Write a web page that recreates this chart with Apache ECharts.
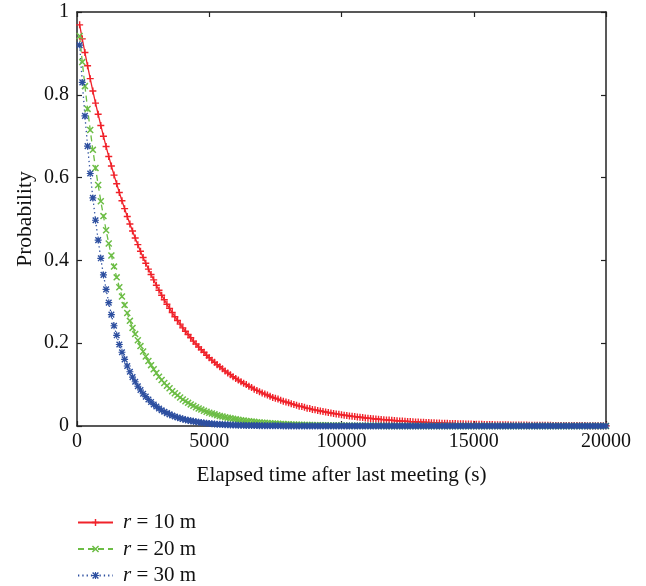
<!DOCTYPE html>
<html>
<head>
<meta charset="utf-8">
<script src="https://cdn.jsdelivr.net/npm/echarts@6/dist/echarts.min.js"></script>
<style>
html,body{margin:0;padding:0;background:#fff;}
#chart{width:646px;height:586px;}
</style>
</head>
<body>
<div id="chart"></div>
<script>
// Elapsed time (s) of each sample
var times = [
100,200,300,400,500,600,700,800,900,1000,
1100,1200,1300,1400,1500,1600,1700,1800,1900,2000,
2100,2200,2300,2400,2500,2600,2700,2800,2900,3000,
3100,3200,3300,3400,3500,3600,3700,3800,3900,4000,
4100,4200,4300,4400,4500,4600,4700,4800,4900,5000,
5100,5200,5300,5400,5500,5600,5700,5800,5900,6000,
6100,6200,6300,6400,6500,6600,6700,6800,6900,7000,
7100,7200,7300,7400,7500,7600,7700,7800,7900,8000,
8100,8200,8300,8400,8500,8600,8700,8800,8900,9000,
9100,9200,9300,9400,9500,9600,9700,9800,9900,10000,
10100,10200,10300,10400,10500,10600,10700,10800,10900,11000,
11100,11200,11300,11400,11500,11600,11700,11800,11900,12000,
12100,12200,12300,12400,12500,12600,12700,12800,12900,13000,
13100,13200,13300,13400,13500,13600,13700,13800,13900,14000,
14100,14200,14300,14400,14500,14600,14700,14800,14900,15000,
15100,15200,15300,15400,15500,15600,15700,15800,15900,16000,
16100,16200,16300,16400,16500,16600,16700,16800,16900,17000,
17100,17200,17300,17400,17500,17600,17700,17800,17900,18000,
18100,18200,18300,18400,18500,18600,18700,18800,18900,19000,
19100,19200,19300,19400,19500,19600,19700,19800,19900,20000
];

var seriesNames = ['r = 10 m', 'r = 20 m', 'r = 30 m'];

var r10 = [
0.969,0.935,0.902,0.870,0.839,0.809,0.780,0.753,0.726,0.700,
0.675,0.651,0.628,0.606,0.585,0.564,0.544,0.525,0.506,0.488,
0.471,0.454,0.438,0.422,0.407,0.393,0.379,0.366,0.353,0.340,
0.328,0.316,0.305,0.294,0.284,0.274,0.264,0.255,0.246,0.237,
0.229,0.221,0.213,0.205,0.198,0.191,0.184,0.178,0.171,0.165,
0.159,0.154,0.148,0.143,0.138,0.133,0.128,0.124,0.119,0.115,
0.111,0.107,0.103,0.100,0.096,0.093,0.089,0.086,0.083,0.080,
0.077,0.075,0.072,0.069,0.067,0.065,0.062,0.060,0.058,0.056,
0.054,0.052,0.050,0.048,0.047,0.045,0.043,0.042,0.040,0.039,
0.0376,0.0363,0.0350,0.0338,0.0326,0.0314,0.0303,0.0292,0.0282,0.0272,
0.0262,0.0253,0.0244,0.0235,0.0227,0.0219,0.0211,0.0204,0.0196,0.0189,
0.0183,0.0176,0.0170,0.0164,0.0158,0.0153,0.0147,0.0142,0.0137,0.0132,
0.0127,0.0123,0.0118,0.0114,0.0110,0.0106,0.0103,0.0099,0.0095,0.0092,
0.0089,0.0086,0.0083,0.0080,0.0077,0.0074,0.0071,0.0069,0.0066,0.0064,
0.0062,0.0060,0.0058,0.0056,0.0054,0.0052,0.0050,0.0048,0.0046,0.0045,
0.0043,0.0042,0.0040,0.0039,0.0037,0.0036,0.0035,0.0033,0.0032,0.0031,
0.0030,0.0029,0.0028,0.0027,0.0026,0.0025,0.0024,0.0023,0.0023,0.0022,
0.0021,0.0020,0.0019,0.0019,0.0018,0.0017,0.0017,0.0016,0.0016,0.0015,
0.0015,0.0014,0.0014,0.0013,0.0013,0.0012,0.0012,0.0011,0.0011,0.0011,
0.0010,0.0010,0.0009,0.0009,0.0009,0.0008,0.0008,0.0008,0.0008,0.0007
];

var r20 = [
0.942,0.879,0.821,0.766,0.715,0.667,0.623,0.582,0.543,0.507,
0.473,0.441,0.412,0.385,0.359,0.335,0.313,0.292,0.273,0.254,
0.237,0.222,0.207,0.193,0.180,0.168,0.157,0.147,0.137,0.128,
0.119,0.111,0.104,0.097,0.091,0.084,0.079,0.074,0.069,0.064,
0.0599,0.0559,0.0522,0.0487,0.0454,0.0424,0.0396,0.0370,0.0345,0.0322,
0.0301,0.0281,0.0262,0.0244,0.0228,0.0213,0.0199,0.0186,0.0173,0.0162,
0.0151,0.0141,0.0131,0.0123,0.0115,0.0107,0.0100,0.0093,0.0087,0.0081,
0.0076,0.0071,0.0066,0.0062,0.0058,0.0054,0.0050,0.0047,0.0044,0.0041,
0.0038,0.0036,0.0033,0.0031,0.0029,0.0027,0.0025,0.0023,0.0022,0.0020,
0.0019,0.0018,0.0017,0.0016,0.0015,0.0014,0.0013,0.0012,0.0011,0.0010,
0.0010,0.0009,0.0008,0.0008,0.0007,0.0007,0.0006,0.0006,0.0006,0.0005,
0.0005,0.0004,0.0004,0.0004,0.0004,0.0003,0.0003,0.0003,0.0003,0.0003,
0.0002,0.0002,0.0002,0.0002,0.0002,0.0002,0.0002,0.0002,0.0002,0.0002,
0.0001,0.0001,0.0001,0.0001,0.0001,0.0001,0.0001,0.0001,0.0001,0.0001,
0,0,0,0,0,0,0,0,0,0,
0,0,0,0,0,0,0,0,0,0,
0,0,0,0,0,0,0,0,0,0,
0,0,0,0,0,0,0,0,0,0,
0,0,0,0,0,0,0,0,0,0,
0,0,0,0,0,0,0,0,0,0
];

var r30 = [
0.920,0.830,0.749,0.676,0.610,0.551,0.497,0.449,0.405,0.365,
0.330,0.298,0.269,0.242,0.219,0.197,0.178,0.161,0.145,0.131,
0.118,0.107,0.096,0.087,0.078,0.071,0.064,0.058,0.052,0.047,
0.0424,0.0382,0.0345,0.0311,0.0281,0.0254,0.0229,0.0207,0.0186,0.0168,
0.0152,0.0137,0.0124,0.0112,0.0101,0.0091,0.0082,0.0074,0.0067,0.0060,
0.0054,0.0049,0.0044,0.0040,0.0036,0.0033,0.0029,0.0027,0.0024,0.0022,
0.0020,0.0018,0.0016,0.0014,0.0013,0.0012,0.0011,0.0010,0.0009,0.0008,
0.0007,0.0006,0.0006,0.0005,0.0005,0.0004,0.0004,0.0003,0.0003,0.0003,
0.0003,0.0002,0.0002,0.0002,0.0002,0.0002,0.0001,0.0001,0.0001,0.0001,
0.0001,0.0001,0.0001,0.0001,0.0001,0.0001,0.0001,0.0001,0.0001,0.0001,
0,0,0,0,0,0,0,0,0,0,
0,0,0,0,0,0,0,0,0,0,
0,0,0,0,0,0,0,0,0,0,
0,0,0,0,0,0,0,0,0,0,
0,0,0,0,0,0,0,0,0,0,
0,0,0,0,0,0,0,0,0,0,
0,0,0,0,0,0,0,0,0,0,
0,0,0,0,0,0,0,0,0,0,
0,0,0,0,0,0,0,0,0,0,
0,0,0,0,0,0,0,0,0,0
];

var xTicks = [0, 5000, 10000, 15000, 20000];
var yTicks = [0, 0.2, 0.4, 0.6, 0.8, 1];

var FONT = '"Liberation Serif", "DejaVu Serif", serif';
var AXIS_COLOR = '#222';

var PLUS = 'path://M0,4L10,4L10,6L0,6ZM4,0L6,0L6,10L4,10Z';
var CROSS = 'path://M1.7,0.3L9.7,8.3L8.3,9.7L0.3,1.7ZM8.3,0.3L9.7,1.7L1.7,9.7L0.3,8.3Z';
var STAR = 'path://M0,4.2L10,4.2L10,5.8L0,5.8ZM4.2,0L5.8,0L5.8,10L4.2,10ZM1.7,0.3L9.7,8.3L8.3,9.7L0.3,1.7ZM8.3,0.3L9.7,1.7L1.7,9.7L0.3,8.3Z';

function pairs(vals) {
  return times.map(function (t, i) { return [t, vals[i]]; });
}

var chart = echarts.init(document.getElementById('chart'), null, {renderer: 'canvas'});

var commonAxisLine = {show: true, onZero: false, lineStyle: {color: AXIS_COLOR, width: 1.5}};
var tick = {show: true, inside: true, length: 5, lineStyle: {color: AXIS_COLOR, width: 1.2}};

var legendTops = [512, 538.5, 565];
var legends = seriesNames.map(function (nm, i) {
  return {
    orient: 'vertical',
    left: 77,
    top: legendTops[i],
    itemWidth: 35,
    itemHeight: 9,
    padding: 0,
    data: [nm],
    formatter: function (name) { return '{i|r}' + name.slice(1); },
    textStyle: {
      fontFamily: FONT, fontSize: 21, color: '#111', lineHeight: 20,
      padding: [0, 0, 0, 5],
      rich: {i: {fontFamily: FONT, fontSize: 21, fontStyle: 'italic', color: '#111', lineHeight: 20}}
    }
  };
});

chart.setOption({
  animation: false,
  backgroundColor: '#fff',
  grid: {left: 77, right: 40, top: 12, bottom: 160, containLabel: false},
  legend: legends,
  xAxis: [{
    type: 'value', min: xTicks[0], max: xTicks[xTicks.length - 1], interval: 5000,
    position: 'bottom',
    name: 'Elapsed time after last meeting (s)', nameLocation: 'middle', nameGap: 39,
    nameMoveOverlap: false,
    nameTextStyle: {fontFamily: FONT, fontSize: 21.2, color: '#111'},
    axisLine: commonAxisLine,
    axisTick: tick,
    axisLabel: {fontFamily: FONT, fontSize: 20, color: '#111', margin: 6,
      formatter: function (v) { return String(v); }},
    splitLine: {show: false}
  }, {
    type: 'value', min: xTicks[0], max: xTicks[xTicks.length - 1], interval: 5000,
    position: 'top',
    axisLine: commonAxisLine,
    axisTick: tick,
    axisLabel: {show: false},
    splitLine: {show: false}
  }],
  yAxis: [{
    type: 'value', min: yTicks[0], max: yTicks[yTicks.length - 1], interval: 0.2,
    position: 'left',
    name: 'Probability', nameLocation: 'middle', nameGap: 41,
    nameMoveOverlap: false,
    nameTextStyle: {fontFamily: FONT, fontSize: 21.5, color: '#111'},
    axisLine: commonAxisLine,
    axisTick: tick,
    axisLabel: {fontFamily: FONT, fontSize: 20, color: '#111', margin: 8,
      formatter: function (v) { return String(Math.round(v * 10) / 10); }},
    splitLine: {show: false}
  }, {
    type: 'value', min: yTicks[0], max: yTicks[yTicks.length - 1], interval: 0.2,
    position: 'right',
    axisLine: commonAxisLine,
    axisTick: tick,
    axisLabel: {show: false},
    splitLine: {show: false}
  }],
  series: [{
    name: seriesNames[0], type: 'line', data: pairs(r10),
    xAxisIndex: 0, yAxisIndex: 0,
    symbol: PLUS, symbolSize: 7, showAllSymbol: true, clip: false,
    lineStyle: {color: '#f0222a', width: 1.3, type: 'solid'},
    itemStyle: {color: '#f0222a'}
  }, {
    name: seriesNames[1], type: 'line', data: pairs(r20),
    xAxisIndex: 0, yAxisIndex: 0,
    symbol: CROSS, symbolSize: 7, showAllSymbol: true, clip: false,
    lineStyle: {color: '#6cbd45', width: 1.3, type: [6, 4]},
    itemStyle: {color: '#6cbd45'}
  }, {
    name: seriesNames[2], type: 'line', data: pairs(r30),
    xAxisIndex: 0, yAxisIndex: 0,
    symbol: STAR, symbolSize: 7, showAllSymbol: true, clip: false,
    lineStyle: {color: '#2d4fa0', width: 1.3, type: [1.3, 3]},
    itemStyle: {color: '#2d4fa0'}
  }]
});
</script>
</body>
</html>
